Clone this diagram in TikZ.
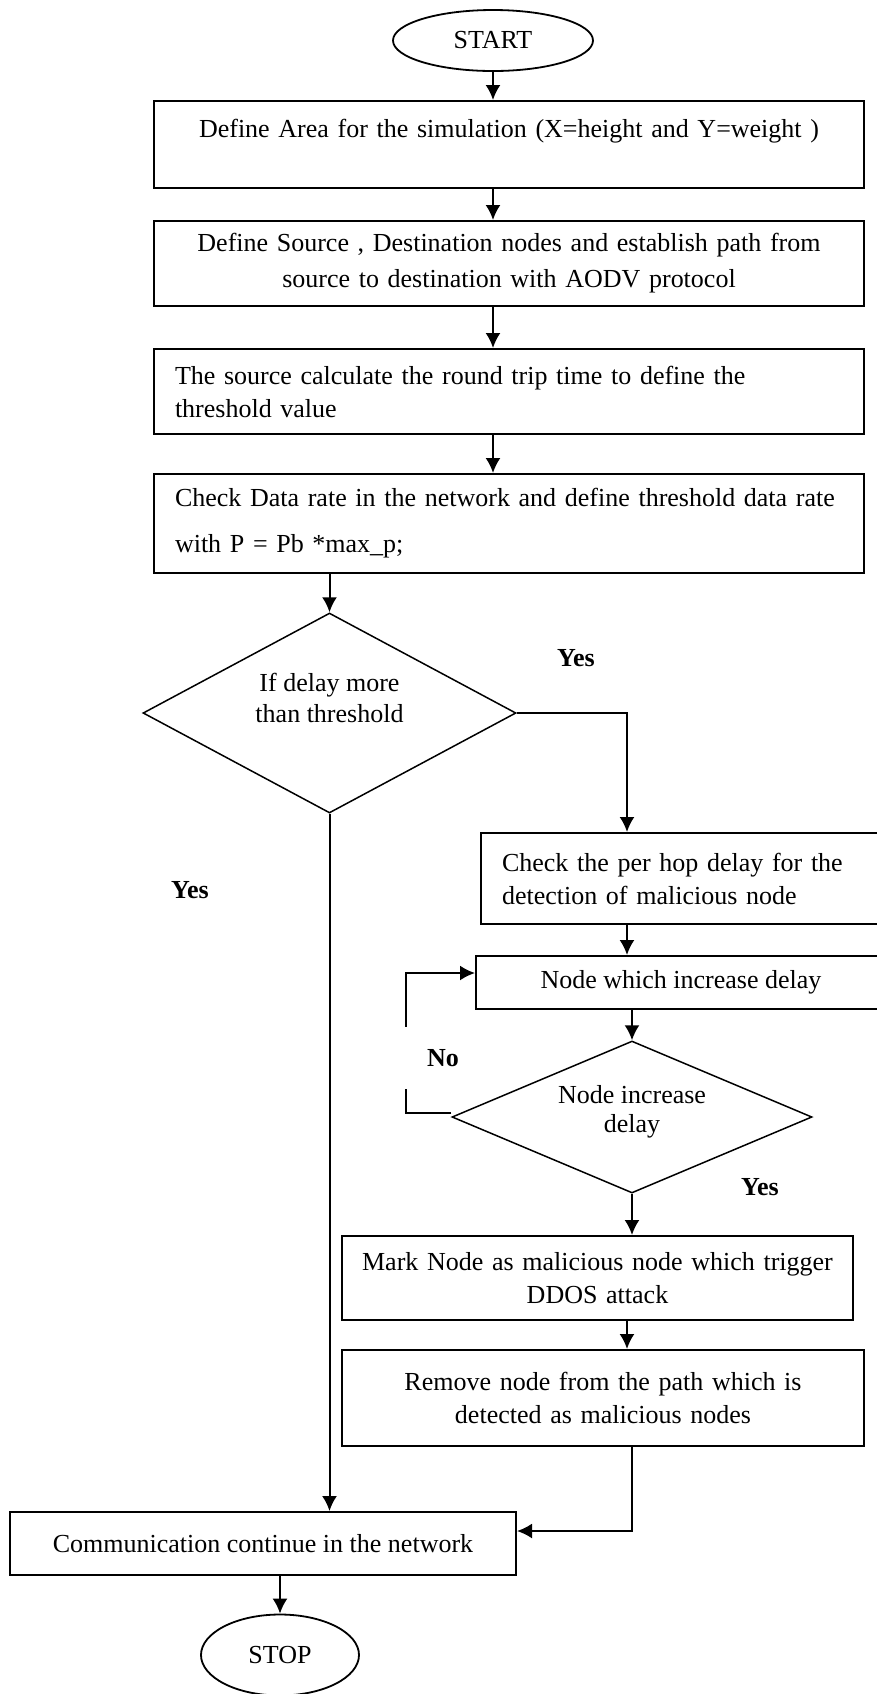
\documentclass[tikz,border=0pt]{standalone}
\usepackage{fontspec}
\setmainfont{Liberation Serif}
\usetikzlibrary{arrows.meta,shapes.geometric,positioning}
\tikzset{>={Latex[length=7.5pt,width=7.5pt]}}

\begin{document}
\begin{tikzpicture}[x=0.5pt,y=-0.5pt,font=\fontsize{13}{15.5}\selectfont,
	box/.style={rectangle, draw, line width=1pt, inner sep=0pt},
	term/.style={ellipse, draw, line width=0.9pt, inner sep=0pt},
	decision/.style={diamond, draw, line width=0.75pt, inner sep=0pt},
	flow/.style={->, line width=1pt},
	answer/.style={font=\fontsize{13}{15.5}\selectfont\bfseries, inner sep=0pt}]
		\useasboundingbox (0,0) rectangle (877,1694);
		\node[term, minimum width=100pt, minimum height=30.5pt] (start) at (493,40.5) {START};
		\node[box, minimum width=355pt, minimum height=43.5pt, text width=340pt, align=center] (area) at (509,144.5)
			{Define Area for the simulation (X=height and Y=weight )\\[1pt]\mbox{}};
		\node[box, minimum width=355pt, minimum height=42.5pt, text width=340pt, align=center] (path) at (509,263.5)
			{Define Source , Destination nodes and establish path from\\[2.5pt]source to destination with AODV protocol};
		\node[box, minimum width=355pt, minimum height=42.5pt, text width=334pt, align=left] (rtt) at (509,391.5)
			{The source calculate the round trip time to define the\\[1pt]threshold value};
		\node[box, minimum width=355pt, minimum height=49.5pt, text width=334pt, align=left] (rate) at (509,523.5)
			{Check Data rate in the network and define threshold data rate\\[7.5pt]with P = Pb *max\_p;};
		\node[decision, aspect=1.86, minimum width=186.5pt, minimum height=100pt, align=center] (delay) at (329.5,713)
			{If delay more\\than threshold\\\mbox{}};
		\node[box, minimum width=202.5pt, minimum height=45.5pt, text width=181.5pt, align=left] (hop) at (683.5,878.5)
			{Check the per hop delay for the\\[1pt]detection of malicious node};
		\node[box, minimum width=205pt, minimum height=26.5pt] (incr) at (681,982.5) {Node which increase delay};
		\node[decision, aspect=2.37, minimum width=180pt, minimum height=76pt, align=center] (check) at (632,1117)
			{Node increase\\[-1pt]delay\\[-7pt]\mbox{}};
		\node[box, minimum width=255.5pt, minimum height=42pt, text width=250pt, align=center] (mark) at (597.5,1278)
			{Mark Node as malicious node which trigger\\[1pt]DDOS attack};
		\node[box, minimum width=261pt, minimum height=48pt, text width=250pt, align=center] (remove) at (603,1398)
			{Remove node from the path which is\\[1pt]detected as malicious nodes};
		\node[box, minimum width=253pt, minimum height=31.5pt] (comm) at (263,1543.5) {Communication continue in the network};
		\node[term, minimum width=79pt, minimum height=40.5pt] (stop) at (280,1655) {STOP};
		\coordinate (colR) at (627,0);
		\draw[flow] (start) -- (area.north -| start);
		\draw[flow] (area.south -| start) -- (path.north -| start);
		\draw[flow] (path.south -| start) -- (rtt.north -| start);
		\draw[flow] (rtt.south -| start) -- (rate.north -| start);
		\draw[flow] (rate.south -| delay) -- (delay.north);
		\draw[flow] (delay.east) -| (hop.north -| colR);
		\draw[flow] (delay.south) -- (delay.south |- comm.north);
		\draw[flow] (hop.south -| colR) -- (incr.north -| colR);
		\draw[flow] (incr.south -| check) -- (check.north);
		\draw[flow] ([yshift=2pt]check.west) -- ++(-45,0) |- ([yshift=4.75pt]incr.west);
		\draw[flow] (check.south) -- (mark.north -| check.south);
		\draw[flow] (mark.south -| colR) -- (remove.north -| colR);
		\draw[flow] (remove.south -| check) |- ([yshift=6.25pt]comm.east);
		\draw[flow] (comm.south -| stop.north) -- (stop.north);
		\node[answer] (yes1) at (576,658) {Yes};
		\node[answer] (yes2) at (190,890) {Yes};
		\node[answer, fill=white, minimum width=38pt, minimum height=31pt] (no) at (443,1058) {No};
		\node[answer] (yes3) at (760,1187) {Yes};
\end{tikzpicture}
\end{document}
